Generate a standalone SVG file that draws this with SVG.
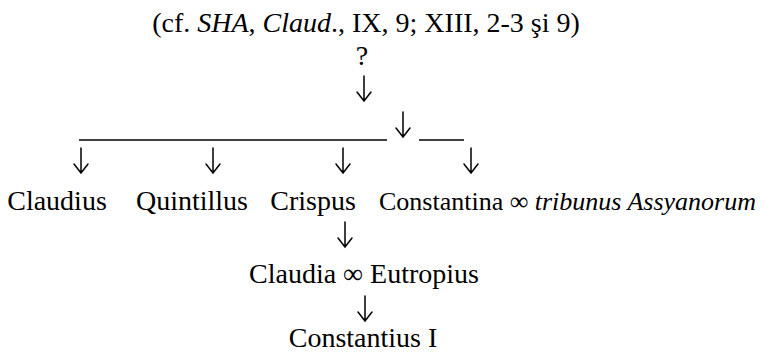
<svg xmlns="http://www.w3.org/2000/svg" width="766" height="355" viewBox="0 0 766 355">
  <style>
    .t { font-family: "Liberation Serif", "Times New Roman", serif; font-size: 28px; fill: #000; }
    .i { font-style: italic; }
    .ln { stroke: #000; stroke-width: 1.5; fill: none; }
    .ar { stroke: #000; stroke-width: 1.5; fill: none; stroke-linecap: round; stroke-linejoin: miter; }
  </style>
  <defs>
    <path id="arrow" d="M0,0 V25 M-7,16 L0,25 L7,16"/>
  </defs>
  <rect width="766" height="355" fill="#fff"/>

  <g id="source">
    <text class="t" x="366" y="32" text-anchor="middle">(cf. <tspan class="i">SHA</tspan>, <tspan class="i">Claud</tspan>., IX, 9; XIII, 2-3 şi 9)</text>
  </g>
  <g id="unknown">
    <text class="t" x="362" y="65" text-anchor="middle">?</text>
  </g>
  <g id="claudius">
    <text class="t" x="57" y="210" text-anchor="middle">Claudius</text>
  </g>
  <g id="quintillus">
    <text class="t" x="192" y="210" text-anchor="middle">Quintillus</text>
  </g>
  <g id="crispus">
    <text class="t" x="313" y="210" text-anchor="middle">Crispus</text>
  </g>
  <g id="constantina">
    <text class="t" x="379" y="210" style="font-size:26px">Constantina ∞ <tspan class="i">tribunus Assyanorum</tspan></text>
  </g>
  <g id="claudia">
    <text class="t" x="364" y="283" text-anchor="middle">Claudia ∞ Eutropius</text>
  </g>
  <g id="constantius">
    <text class="t" x="363" y="347" text-anchor="middle">Constantius I</text>
  </g>

  <g id="connectors">
    <line class="ln" x1="79" y1="140" x2="387" y2="140"/>
    <line class="ln" x1="419" y1="140" x2="464" y2="140"/>
    <use href="#arrow" class="ar" x="364" y="76"/>
    <use href="#arrow" class="ar" x="403" y="112"/>
    <use href="#arrow" class="ar" x="81" y="148"/>
    <use href="#arrow" class="ar" x="213" y="148"/>
    <use href="#arrow" class="ar" x="343" y="148"/>
    <use href="#arrow" class="ar" x="471" y="148"/>
    <use href="#arrow" class="ar" x="345" y="222"/>
    <use href="#arrow" class="ar" x="365" y="296"/>
  </g>
</svg>
